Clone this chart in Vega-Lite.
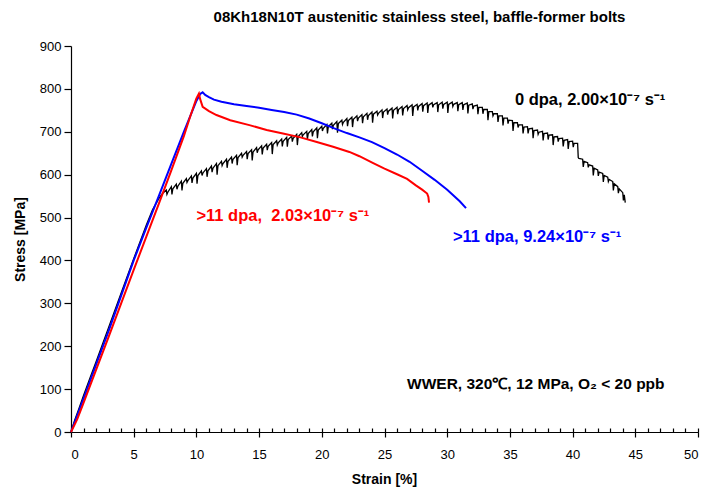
{
  "$schema": "https://vega.github.io/schema/vega-lite/v6.json",
  "width": 627,
  "height": 386,
  "autosize": {"type": "none"},
  "padding": {"left": 71, "top": 46, "right": 7, "bottom": 58},
  "background": "white",
  "config": {
    "view": {"stroke": null},
    "font": "Liberation Sans",
    "axis": {"grid": false, "domainColor": "black", "tickColor": "black", "labelColor": "black", "titleColor": "black", "labelFont": "Liberation Sans", "titleFont": "Liberation Sans", "labelFontSize": 13, "titleFontSize": 14, "titleFontWeight": "bold", "domainWidth": 1.2, "tickWidth": 1.2}
  },
  "title": {"text": "08Kh18N10T austenitic stainless steel, baffle-former bolts", "font": "Liberation Sans", "fontSize": 15, "fontWeight": "bold", "anchor": "middle", "frame": "group", "baseline": "alphabetic", "offset": 3, "dx": 35, "color": "black"},
  "datasets": {
    "black": [
      {"strain": 0, "stress": 0}, {"strain": 0.3, "stress": 28}, {"strain": 0.6, "stress": 52}, {"strain": 1, "stress": 85}, {"strain": 1.5, "stress": 125}, {"strain": 2, "stress": 164}, {"strain": 3, "stress": 244}, {"strain": 4, "stress": 324}, {"strain": 5, "stress": 404}, {"strain": 6, "stress": 482}, {"strain": 6.5, "stress": 518}, {"strain": 7, "stress": 544}, {"strain": 7.3, "stress": 556},
      {"strain": 7.6, "stress": 564}, {"strain": 7.65, "stress": 554}, {"strain": 7.72, "stress": 559},
      {"strain": 8.0, "stress": 572}, {"strain": 8.05, "stress": 554}, {"strain": 8.12, "stress": 567},
      {"strain": 8.4, "stress": 578}, {"strain": 8.45, "stress": 566}, {"strain": 8.52, "stress": 573},
      {"strain": 8.8, "stress": 585}, {"strain": 8.85, "stress": 563}, {"strain": 8.92, "stress": 580},
      {"strain": 9.2, "stress": 591}, {"strain": 9.25, "stress": 582}, {"strain": 9.32, "stress": 586},
      {"strain": 9.6, "stress": 597}, {"strain": 9.65, "stress": 581}, {"strain": 9.72, "stress": 592},
      {"strain": 10.0, "stress": 603}, {"strain": 10.05, "stress": 579}, {"strain": 10.12, "stress": 598},
      {"strain": 10.4, "stress": 609}, {"strain": 10.45, "stress": 598}, {"strain": 10.52, "stress": 604},
      {"strain": 10.8, "stress": 614}, {"strain": 10.85, "stress": 595}, {"strain": 10.92, "stress": 609},
      {"strain": 11.2, "stress": 620}, {"strain": 11.25, "stress": 606}, {"strain": 11.32, "stress": 615},
      {"strain": 11.6, "stress": 626}, {"strain": 11.65, "stress": 600}, {"strain": 11.72, "stress": 621},
      {"strain": 12.0, "stress": 631}, {"strain": 12.05, "stress": 621}, {"strain": 12.12, "stress": 626},
      {"strain": 12.4, "stress": 636}, {"strain": 12.45, "stress": 616}, {"strain": 12.52, "stress": 631},
      {"strain": 12.8, "stress": 641}, {"strain": 12.85, "stress": 626}, {"strain": 12.92, "stress": 636},
      {"strain": 13.2, "stress": 645}, {"strain": 13.25, "stress": 622}, {"strain": 13.32, "stress": 640},
      {"strain": 13.6, "stress": 650}, {"strain": 13.65, "stress": 641}, {"strain": 13.72, "stress": 645},
      {"strain": 14.0, "stress": 654}, {"strain": 14.05, "stress": 636}, {"strain": 14.12, "stress": 649},
      {"strain": 14.4, "stress": 658}, {"strain": 14.45, "stress": 633}, {"strain": 14.52, "stress": 653},
      {"strain": 14.8, "stress": 663}, {"strain": 14.85, "stress": 651}, {"strain": 14.92, "stress": 658},
      {"strain": 15.2, "stress": 667}, {"strain": 15.25, "stress": 647}, {"strain": 15.32, "stress": 662},
      {"strain": 15.6, "stress": 671}, {"strain": 15.65, "stress": 657}, {"strain": 15.72, "stress": 666},
      {"strain": 16.0, "stress": 675}, {"strain": 16.05, "stress": 648}, {"strain": 16.12, "stress": 670},
      {"strain": 16.4, "stress": 679}, {"strain": 16.45, "stress": 669}, {"strain": 16.52, "stress": 674},
      {"strain": 16.8, "stress": 683}, {"strain": 16.85, "stress": 666}, {"strain": 16.92, "stress": 678},
      {"strain": 17.2, "stress": 687}, {"strain": 17.25, "stress": 665}, {"strain": 17.32, "stress": 682},
      {"strain": 17.6, "stress": 690}, {"strain": 17.65, "stress": 677}, {"strain": 17.72, "stress": 685},
      {"strain": 18.0, "stress": 694}, {"strain": 18.05, "stress": 669}, {"strain": 18.12, "stress": 689},
      {"strain": 18.4, "stress": 698}, {"strain": 18.45, "stress": 689}, {"strain": 18.52, "stress": 693},
      {"strain": 18.8, "stress": 701}, {"strain": 18.85, "stress": 682}, {"strain": 18.92, "stress": 696},
      {"strain": 19.2, "stress": 705}, {"strain": 19.25, "stress": 689}, {"strain": 19.32, "stress": 700},
      {"strain": 19.6, "stress": 709}, {"strain": 19.65, "stress": 685}, {"strain": 19.72, "stress": 704},
      {"strain": 20.0, "stress": 713}, {"strain": 20.05, "stress": 702}, {"strain": 20.12, "stress": 708},
      {"strain": 20.4, "stress": 717}, {"strain": 20.45, "stress": 696}, {"strain": 20.52, "stress": 712},
      {"strain": 20.8, "stress": 720}, {"strain": 20.85, "stress": 706}, {"strain": 20.92, "stress": 715},
      {"strain": 21.2, "stress": 724}, {"strain": 21.25, "stress": 698}, {"strain": 21.32, "stress": 719},
      {"strain": 21.6, "stress": 727}, {"strain": 21.65, "stress": 717}, {"strain": 21.72, "stress": 722},
      {"strain": 22.0, "stress": 731}, {"strain": 22.05, "stress": 713}, {"strain": 22.12, "stress": 726},
      {"strain": 22.4, "stress": 734}, {"strain": 22.45, "stress": 711}, {"strain": 22.52, "stress": 729},
      {"strain": 22.8, "stress": 737}, {"strain": 22.85, "stress": 725}, {"strain": 22.92, "stress": 732},
      {"strain": 23.2, "stress": 740}, {"strain": 23.25, "stress": 720}, {"strain": 23.32, "stress": 735},
      {"strain": 23.6, "stress": 743}, {"strain": 23.65, "stress": 728}, {"strain": 23.72, "stress": 738},
      {"strain": 24.0, "stress": 746}, {"strain": 24.05, "stress": 721}, {"strain": 24.12, "stress": 741},
      {"strain": 24.4, "stress": 748}, {"strain": 24.45, "stress": 739}, {"strain": 24.52, "stress": 743},
      {"strain": 24.8, "stress": 751}, {"strain": 24.85, "stress": 732}, {"strain": 24.92, "stress": 746},
      {"strain": 25.2, "stress": 753}, {"strain": 25.25, "stress": 740}, {"strain": 25.32, "stress": 748},
      {"strain": 25.6, "stress": 755}, {"strain": 25.65, "stress": 731}, {"strain": 25.72, "stress": 750},
      {"strain": 26.0, "stress": 757}, {"strain": 26.05, "stress": 741}, {"strain": 26.12, "stress": 752},
      {"strain": 26.4, "stress": 759}, {"strain": 26.45, "stress": 738}, {"strain": 26.52, "stress": 754},
      {"strain": 26.8, "stress": 761}, {"strain": 26.85, "stress": 751}, {"strain": 26.92, "stress": 756},
      {"strain": 27.2, "stress": 763}, {"strain": 27.25, "stress": 737}, {"strain": 27.32, "stress": 758},
      {"strain": 27.6, "stress": 764}, {"strain": 27.65, "stress": 750}, {"strain": 27.72, "stress": 759},
      {"strain": 28.0, "stress": 766}, {"strain": 28.05, "stress": 747}, {"strain": 28.12, "stress": 761},
      {"strain": 28.4, "stress": 767}, {"strain": 28.45, "stress": 744}, {"strain": 28.52, "stress": 762},
      {"strain": 28.8, "stress": 768}, {"strain": 28.85, "stress": 757}, {"strain": 28.92, "stress": 763},
      {"strain": 29.2, "stress": 768}, {"strain": 29.25, "stress": 746}, {"strain": 29.32, "stress": 763},
      {"strain": 29.6, "stress": 769}, {"strain": 29.65, "stress": 754}, {"strain": 29.72, "stress": 764},
      {"strain": 30.0, "stress": 769}, {"strain": 30.05, "stress": 744}, {"strain": 30.12, "stress": 764},
      {"strain": 30.4, "stress": 769}, {"strain": 30.45, "stress": 759}, {"strain": 30.52, "stress": 764},
      {"strain": 30.8, "stress": 768}, {"strain": 30.85, "stress": 748}, {"strain": 30.92, "stress": 763},
      {"strain": 31.2, "stress": 768}, {"strain": 31.25, "stress": 751}, {"strain": 31.32, "stress": 763},
      {"strain": 31.6, "stress": 767}, {"strain": 31.65, "stress": 743}, {"strain": 31.72, "stress": 762},
      {"strain": 32.0, "stress": 765}, {"strain": 32.05, "stress": 753}, {"strain": 32.12, "stress": 760},
      {"strain": 32.4, "stress": 762}, {"strain": 32.45, "stress": 741}, {"strain": 32.52, "stress": 757},
      {"strain": 32.8, "stress": 757}, {"strain": 32.85, "stress": 742}, {"strain": 32.92, "stress": 752},
      {"strain": 33.2, "stress": 752}, {"strain": 33.25, "stress": 727}, {"strain": 33.32, "stress": 747},
      {"strain": 33.6, "stress": 747}, {"strain": 33.65, "stress": 737}, {"strain": 33.72, "stress": 742},
      {"strain": 34.0, "stress": 742}, {"strain": 34.05, "stress": 723}, {"strain": 34.12, "stress": 737},
      {"strain": 34.4, "stress": 737}, {"strain": 34.45, "stress": 715}, {"strain": 34.52, "stress": 732},
      {"strain": 34.8, "stress": 732}, {"strain": 34.85, "stress": 719}, {"strain": 34.92, "stress": 727},
      {"strain": 35.2, "stress": 726}, {"strain": 35.25, "stress": 702}, {"strain": 35.32, "stress": 721},
      {"strain": 35.6, "stress": 721}, {"strain": 35.65, "stress": 710}, {"strain": 35.72, "stress": 716},
      {"strain": 36.0, "stress": 716}, {"strain": 36.05, "stress": 696}, {"strain": 36.12, "stress": 711},
      {"strain": 36.4, "stress": 712}, {"strain": 36.45, "stress": 696}, {"strain": 36.52, "stress": 707},
      {"strain": 36.8, "stress": 708}, {"strain": 36.85, "stress": 685}, {"strain": 36.92, "stress": 703},
      {"strain": 37.2, "stress": 704}, {"strain": 37.25, "stress": 694}, {"strain": 37.32, "stress": 699},
      {"strain": 37.6, "stress": 701}, {"strain": 37.65, "stress": 680}, {"strain": 37.72, "stress": 696},
      {"strain": 38.0, "stress": 697}, {"strain": 38.05, "stress": 682}, {"strain": 38.12, "stress": 692},
      {"strain": 38.4, "stress": 693}, {"strain": 38.45, "stress": 669}, {"strain": 38.52, "stress": 688},
      {"strain": 38.8, "stress": 689}, {"strain": 38.85, "stress": 677}, {"strain": 38.92, "stress": 684},
      {"strain": 39.2, "stress": 685}, {"strain": 39.25, "stress": 666}, {"strain": 39.32, "stress": 680},
      {"strain": 39.6, "stress": 682}, {"strain": 39.65, "stress": 660}, {"strain": 39.72, "stress": 677},
      {"strain": 40.0, "stress": 678}, {"strain": 40.05, "stress": 664}, {"strain": 40.12, "stress": 673},
      {"strain": 40.4, "stress": 673}, {"strain": 40.45, "stress": 640}, {"strain": 40.5, "stress": 638},
      {"strain": 40.8, "stress": 636}, {"strain": 40.85, "stress": 618}, {"strain": 40.92, "stress": 631},
      {"strain": 41.2, "stress": 628}, {"strain": 41.25, "stress": 617}, {"strain": 41.32, "stress": 623},
      {"strain": 41.6, "stress": 620}, {"strain": 41.65, "stress": 598}, {"strain": 41.72, "stress": 615},
      {"strain": 42.0, "stress": 611}, {"strain": 42.05, "stress": 597}, {"strain": 42.12, "stress": 606},
      {"strain": 42.4, "stress": 603}, {"strain": 42.45, "stress": 583}, {"strain": 42.52, "stress": 598},
      {"strain": 42.8, "stress": 594}, {"strain": 42.85, "stress": 584}, {"strain": 42.92, "stress": 589},
      {"strain": 43.2, "stress": 584}, {"strain": 43.25, "stress": 563}, {"strain": 43.32, "stress": 579},
      {"strain": 43.6, "stress": 572}, {"strain": 43.65, "stress": 557}, {"strain": 43.72, "stress": 567},
      {"strain": 44.0, "stress": 558}, {"strain": 44.05, "stress": 540}, {"strain": 44.12, "stress": 553},
      {"strain": 44.2, "stress": 535}
    ],
    "blue": [
      {"strain": 0, "stress": 0}, {"strain": 1, "stress": 78}, {"strain": 2, "stress": 157}, {"strain": 3, "stress": 236}, {"strain": 4, "stress": 318}, {"strain": 5, "stress": 400}, {"strain": 6, "stress": 476}, {"strain": 7, "stress": 550}, {"strain": 8, "stress": 625}, {"strain": 9, "stress": 700}, {"strain": 10, "stress": 772}, {"strain": 10.3, "stress": 788}, {"strain": 10.5, "stress": 792}, {"strain": 10.7, "stress": 786}, {"strain": 11, "stress": 781}, {"strain": 11.4, "stress": 775}, {"strain": 12, "stress": 770}, {"strain": 13, "stress": 764}, {"strain": 14, "stress": 760}, {"strain": 15, "stress": 756}, {"strain": 16, "stress": 751}, {"strain": 17, "stress": 746}, {"strain": 18, "stress": 740}, {"strain": 19, "stress": 731}, {"strain": 20, "stress": 720}, {"strain": 21, "stress": 708}, {"strain": 22, "stress": 697}, {"strain": 23, "stress": 687}, {"strain": 24, "stress": 676}, {"strain": 25, "stress": 662}, {"strain": 26, "stress": 647}, {"strain": 27, "stress": 630}, {"strain": 28, "stress": 609}, {"strain": 29, "stress": 588}, {"strain": 30, "stress": 565}, {"strain": 31, "stress": 538}, {"strain": 31.5, "stress": 522}
    ],
    "red": [
      {"strain": 0, "stress": 0}, {"strain": 0.5, "stress": 30}, {"strain": 1, "stress": 68}, {"strain": 2, "stress": 145}, {"strain": 3, "stress": 222}, {"strain": 4, "stress": 300}, {"strain": 5, "stress": 378}, {"strain": 6, "stress": 455}, {"strain": 7, "stress": 532}, {"strain": 8, "stress": 610}, {"strain": 9, "stress": 690}, {"strain": 9.5, "stress": 735}, {"strain": 10, "stress": 778}, {"strain": 10.2, "stress": 789}, {"strain": 10.3, "stress": 776}, {"strain": 10.5, "stress": 758}, {"strain": 11, "stress": 748}, {"strain": 11.6, "stress": 739}, {"strain": 12.7, "stress": 727}, {"strain": 14.3, "stress": 715}, {"strain": 15.6, "stress": 704}, {"strain": 16.9, "stress": 696}, {"strain": 18.3, "stress": 687}, {"strain": 19.6, "stress": 676}, {"strain": 20.9, "stress": 665}, {"strain": 22.2, "stress": 653}, {"strain": 23, "stress": 643}, {"strain": 24.1, "stress": 627}, {"strain": 25, "stress": 614}, {"strain": 26, "stress": 601}, {"strain": 26.8, "stress": 590}, {"strain": 27.5, "stress": 575}, {"strain": 28, "stress": 565}, {"strain": 28.4, "stress": 556}, {"strain": 28.5, "stress": 548}, {"strain": 28.55, "stress": 535}
    ]
  },
  "resolve": {"axis": {"x": "independent"}},
  "layer": [
    {
      "data": {"name": "black"},
      "mark": {"type": "line", "color": "black", "strokeWidth": 1.3},
      "encoding": {
        "x": {"field": "strain", "type": "quantitative", "scale": {"domain": [0, 50], "nice": false, "zero": false},
              "axis": {"orient": "bottom", "values": [0,1,2,3,4,5,6,7,8,9,10,11,12,13,14,15,16,17,18,19,20,21,22,23,24,25,26,27,28,29,30,31,32,33,34,35,36,37,38,39,40,41,42,43,44,45,46,47,48,49,50], "labels": false, "tickSize": -4, "title": null, "domain": true}},
        "y": {"field": "stress", "type": "quantitative", "scale": {"domain": [0, 900], "nice": false},
              "axis": {"values": [0,100,200,300,400,500,600,700,800,900], "tickSize": 7, "labelPadding": 3, "title": "Stress [MPa]", "titleX": -51, "titleY": 193, "titleAngle": -90, "titleAlign": "center", "titleBaseline": "middle"}}
      }
    },
    {
      "data": {"name": "blue"},
      "mark": {"type": "line", "color": "#0000ff", "strokeWidth": 2},
      "encoding": {
        "x": {"field": "strain", "type": "quantitative",
              "axis": {"orient": "bottom", "values": [0,5,10,15,20,25,30,35,40,45,50], "tickSize": 5, "labelPadding": 11, "title": "Strain [%]", "titleX": 313, "titleY": 47, "titleAlign": "center", "titleBaseline": "middle"}},
        "y": {"field": "stress", "type": "quantitative"}
      }
    },
    {
      "data": {"name": "red"},
      "mark": {"type": "line", "color": "#ff0000", "strokeWidth": 2},
      "encoding": {
        "x": {"field": "strain", "type": "quantitative", "axis": null},
        "y": {"field": "stress", "type": "quantitative"}
      }
    },
    {
      "data": {"values": [{}]},
      "mark": {"type": "text", "align": "left", "baseline": "middle", "font": "Liberation Sans", "fontSize": 16.5, "fontWeight": "bold", "color": "black"},
      "encoding": {"x": {"datum": 35.4, "type": "quantitative", "axis": null}, "y": {"datum": 774, "type": "quantitative"}, "text": {"value": "0 dpa, 2.00×10⁻⁷ s⁻¹"}}
    },
    {
      "data": {"values": [{}]},
      "mark": {"type": "text", "align": "left", "baseline": "middle", "font": "Liberation Sans", "fontSize": 16.5, "fontWeight": "bold", "color": "#ff0000"},
      "encoding": {"x": {"datum": 10.0, "type": "quantitative", "axis": null}, "y": {"datum": 503, "type": "quantitative"}, "text": {"value": ">11 dpa,\u00a0 2.03×10⁻⁷ s⁻¹"}}
    },
    {
      "data": {"values": [{}]},
      "mark": {"type": "text", "align": "left", "baseline": "middle", "font": "Liberation Sans", "fontSize": 16.5, "fontWeight": "bold", "color": "#0000ff"},
      "encoding": {"x": {"datum": 30.46, "type": "quantitative", "axis": null}, "y": {"datum": 454, "type": "quantitative"}, "text": {"value": ">11 dpa, 9.24×10⁻⁷ s⁻¹"}}
    },
    {
      "data": {"values": [{}]},
      "mark": {"type": "text", "align": "left", "baseline": "middle", "font": "Liberation Sans", "fontSize": 15.5, "fontWeight": "bold", "color": "black"},
      "encoding": {"x": {"datum": 26.8, "type": "quantitative", "axis": null}, "y": {"datum": 111, "type": "quantitative"}, "text": {"value": "WWER, 320℃, 12 MPa, O₂ < 20 ppb"}}
    }
  ]
}
